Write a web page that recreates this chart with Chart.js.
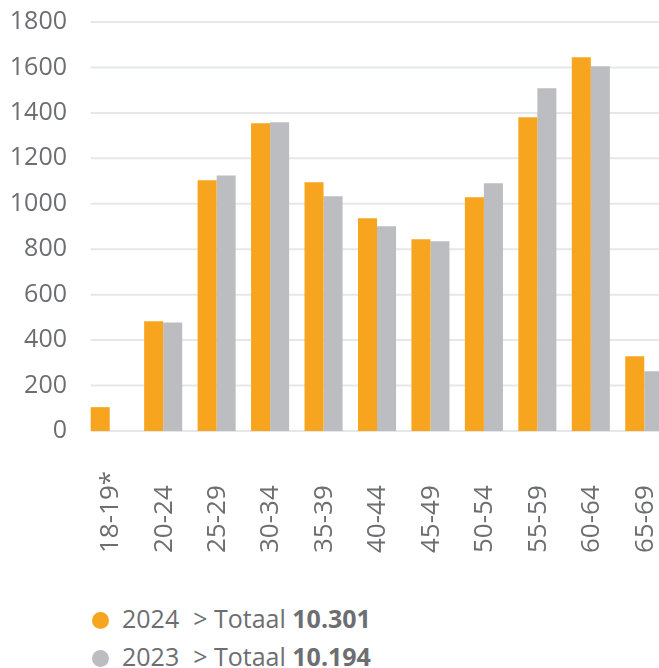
<!DOCTYPE html>
<html>
<head>
<meta charset="utf-8">
<script src="https://cdn.jsdelivr.net/npm/chart.js@4"></script>
<style>
    html, body { margin: 0; padding: 0; background: #fff; overflow: hidden; }
    #wrap { position: relative; width: 659px; height: 668px; overflow: hidden; }
    #box { position: absolute; left: 0; top: 0; width: 680px; height: 556px; }
    .legend { position: absolute; left: 92px; top: 599px; font-family: "Open Sans"; font-size: 25px; color: #6d6e71; }
    .row { height: 38px; line-height: 38px; white-space: nowrap; }
    .dot { display: inline-block; width: 17px; height: 17px; border-radius: 50%; vertical-align: -1px; margin-right: 13px; }
    .gt { margin-left: 14px; }
</style>
</head>
<body>
<div id="wrap">
    <div id="box"><canvas id="leeftijdChart"></canvas></div>
    <div class="legend">
        <div class="row"><span class="dot" style="background:#f7a51e"></span>2024<span class="gt">&gt; Totaal <b>10.301</b></span></div>
        <div class="row"><span class="dot" style="background:#bcbdc0"></span>2023<span class="gt">&gt; Totaal <b>10.194</b></span></div>
    </div>
</div>
<script>
// leeftijdsgroepen
const leeftijden = ['18-19*', '20-24', '25-29', '30-34', '35-39', '40-44', '45-49', '50-54', '55-59', '60-64', '65-69'];
// aantallen per jaar
const waarden2024 = [105, 483, 1103, 1354, 1095, 936, 844, 1029, 1381, 1645, 329];
const waarden2023 = [null, 477, 1125, 1359, 1033, 901, 835, 1090, 1508, 1605, 263];
// y-as
const yMin = 0;
const yMax = 1800;
const yStap = 200;

const tekstKleur = '#6d6e71';
Chart.defaults.font.family = '"Open Sans"';

// rasterlijnen beginnen bij de eerste staaf
const raster = {
    id: 'raster',
    beforeDatasetsDraw(chart) {
        const ctx = chart.ctx;
        const yAs = chart.scales.y;
        const eerste = chart.getDatasetMeta(0).data[0];
        const start = eerste.x - eerste.width / 2;
        ctx.save();
        ctx.strokeStyle = '#e6e7e8';
        ctx.lineWidth = 2;
        yAs.ticks.forEach(t => {
            const y = yAs.getPixelForValue(t.value);
            ctx.beginPath();
            ctx.moveTo(start, y);
            ctx.lineTo(chart.chartArea.right, y);
            ctx.stroke();
        });
        ctx.restore();
    }
};

// x-labels verticaal, onderkant uitgelijnd
const asLabels = {
    id: 'asLabels',
    afterDraw(chart) {
        const ctx = chart.ctx;
        const xAs = chart.scales.x;
        ctx.save();
        ctx.font = '26px "Open Sans"';
        ctx.fillStyle = tekstKleur;
        ctx.textAlign = 'left';
        ctx.textBaseline = 'middle';
        leeftijden.forEach((label, i) => {
            ctx.save();
            ctx.translate(xAs.getPixelForTick(i) + 1, xAs.bottom - 3);
            ctx.rotate(-Math.PI / 2);
            ctx.fillText(label, 0, 0);
            ctx.restore();
        });
        ctx.restore();
    }
};

new Chart(document.getElementById('leeftijdChart'), {
    type: 'bar',
    data: {
        labels: leeftijden,
        datasets: [{
            label: '2024',
            data: waarden2024,
            backgroundColor: '#f7a51e',
            categoryPercentage: 0.712,
            barPercentage: 1
        }, {
            label: '2023',
            data: waarden2023,
            backgroundColor: '#bcbdc0',
            categoryPercentage: 0.712,
            barPercentage: 1
        }]
    },
    options: {
        responsive: true,
        maintainAspectRatio: false,
        animation: false,
        layout: {
            autoPadding: false,
            padding: { top: 22, right: 9, left: 0, bottom: 0 }
        },
        scales: {
            x: {
                grid: { display: false, drawTicks: false },
                border: { display: false },
                ticks: { display: false },
                afterFit: function(scale) {
                    scale.height = 125;
                    scale.paddingLeft = 0;
                    scale.paddingRight = 0;
                }
            },
            y: {
                min: yMin,
                max: yMax,
                grid: { display: false, drawTicks: false },
                border: { display: false },
                ticks: {
                    stepSize: yStap,
                    color: tekstKleur,
                    font: { size: 25 },
                    padding: 16,
                    callback: value => String(value)
                },
                afterFit: function(scale) {
                    scale.width = 83;
                    scale.paddingTop = 0;
                    scale.paddingBottom = 0;
                }
            }
        },
        plugins: {
            legend: { display: false },
            tooltip: { enabled: false }
        }
    },
    plugins: [raster, asLabels]
});
</script>
</body>
</html>
